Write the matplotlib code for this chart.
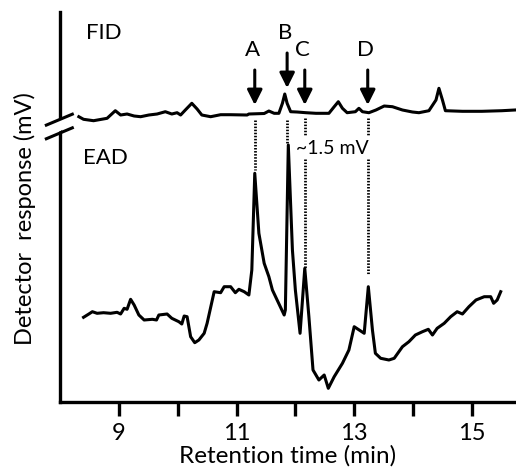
import numpy as np
import matplotlib.pyplot as plt

plt.rcParams['font.family'] = ['Lato', 'DejaVu Sans']

# FID trace (retention time in min, response in arbitrary units)
fid_t = [8.32, 8.40, 8.57, 8.80, 8.94, 9.03, 9.14, 9.26, 9.37, 9.51, 9.65, 9.79,
         9.90, 9.99, 10.05, 10.13, 10.24, 10.33, 10.41, 10.56, 10.73, 10.90, 11.18,
         11.21, 11.47, 11.55, 11.64, 11.72, 11.78, 11.82, 11.86, 11.92, 12.03, 12.18,
         12.35, 12.57, 12.66, 12.73, 12.80, 12.88, 13.02, 13.08, 13.14, 13.25, 13.37,
         13.51, 13.65, 13.82, 13.99, 14.10, 14.27, 14.39, 14.44, 14.50, 14.55, 14.84,
         15.17, 15.51, 15.73]
fid_y = [285.3, 282.7, 281.3, 283.7, 291.3, 287, 288, 286, 285.3, 287, 288, 290.3,
         288, 289.3, 287, 292, 298.7, 293, 287, 285.3, 287.3, 287.3, 287,
         288, 288.5, 291, 288.7, 288.7, 298.7, 308, 298.7, 290.3, 290, 289.3,
         288.7, 288.7, 295.3, 300.3, 293.7, 289.3, 290.3, 293.7, 290.3, 289.3, 292,
         296, 295.3, 292, 290, 289.3, 291.3, 302, 313.7, 302, 291.3, 290.7,
         290.7, 291.3, 292]

# EAD trace
ead_t = [8.40, 8.49, 8.55, 8.63, 8.74, 8.86, 8.97, 9.03, 9.09, 9.14, 9.20, 9.26,
         9.34, 9.43, 9.57, 9.64, 9.68, 9.82, 9.90, 10.02, 10.07, 10.11, 10.16, 10.22,
         10.29, 10.36, 10.45, 10.50, 10.62, 10.73, 10.79, 10.90, 10.98, 11.04, 11.13,
         11.21, 11.26, 11.31, 11.38, 11.47, 11.55, 11.61, 11.69, 11.81, 11.83, 11.88,
         11.95, 12.00, 12.08, 12.16, 12.23, 12.30, 12.40, 12.49, 12.56, 12.66, 12.80,
         12.91, 13.00, 13.17, 13.24, 13.31, 13.36, 13.45, 13.59, 13.68, 13.82, 13.93,
         14.04, 14.16, 14.26, 14.33, 14.41, 14.53, 14.64, 14.75, 14.84, 14.95, 15.07,
         15.21, 15.32, 15.37, 15.43, 15.49]
ead_y = [84.7, 88, 90.3, 88.7, 89.3, 88.7, 89.7, 88, 93.7, 92.7, 102.7, 97,
         87, 82, 82.7, 82, 87, 88, 83.7, 80.3, 78, 86, 85.3, 65.3,
         59.3, 62, 68.7, 78.7, 110.3, 109.3, 115.3, 115.3, 109.3, 112.7, 110.3,
         107, 132, 228.7, 168.7, 138.7, 125.3, 112, 102, 87, 92, 257,
         152, 112, 68.7, 133.7, 85.3, 32, 22, 27, 13.7, 25.3, 38.7,
         52, 75.3, 68.7, 115.3, 72, 48.7, 43.7, 42, 43.7, 55.3, 60.3,
         67, 70.3, 72.7, 67, 73.7, 78.7, 85.3, 90.3, 88, 95.3, 102,
         105.3, 105.3, 98.7, 102, 110.3]

# marked compounds
peak_names = ['A', 'B', 'C', 'D']
peak_t = [11.31, 11.86, 12.16, 13.23]
ead_top = [232, 259, 134, 128]

fig = plt.figure(figsize=(5.16, 4.71), dpi=100)
ax = fig.add_axes([0.1163, 0.1465, 0.8837, 0.828])
lw = 2.2
ax.plot(fid_t, fid_y, color='black', lw=lw, solid_joinstyle='round')
ax.plot(ead_t, ead_y, color='black', lw=lw, solid_joinstyle='round')

# dotted connectors and arrows
dots = dict(color='black', lw=2.0, ls=(0, (0.55, 0.55)))
for name, t, top in zip(peak_names, peak_t, ead_top):
    if name in ('C', 'D'):
        ax.plot([t, t], [284, 266], **dots)
        ax.plot([t, t], [243, top], **dots)
    else:
        ax.plot([t, t], [282, top], **dots)
    if name == 'B':
        y0, y1, ly = 349, 314, 369
    else:
        y0, y1, ly = 332, 297, 352
    ax.annotate('', xy=(t, y1), xytext=(t, y0),
                arrowprops=dict(arrowstyle='-|>,head_length=0.9,head_width=0.45',
                                color='black', lw=2.2, shrinkA=0, shrinkB=0))
    ax.text(t - 0.04, ly, name, ha='center', va='center', fontsize=16)

ax.text(12.63, 254, '~1.5 mV', ha='center', va='center', fontsize=14)
ax.text(8.75, 369, 'FID', ha='center', va='center', fontsize=16)
ax.text(8.78, 244, 'EAD', ha='center', va='center', fontsize=16)

ax.set_xlim(8, 15.75)
ax.set_ylim(0, 390)
ax.set_xticks(np.arange(9, 16))
ax.set_xticklabels(['9', '', '11', '', '13', '', '15'], fontsize=17)
ax.set_yticks([])
ax.tick_params(axis='x', direction='out', length=10, width=2.4, pad=5)
for s in ['top', 'right']:
    ax.spines[s].set_visible(False)
ax.spines['left'].set_linewidth(2.4)
ax.spines['bottom'].set_linewidth(2.4)
ax.set_xlabel('Retention time (min)', fontsize=17.5, labelpad=1)
ax.set_ylabel('Detector  response (mV)', fontsize=17)
ax.yaxis.set_label_coords(-0.052, 0.47)

# axis break on the y axis
kw = dict(transform=ax.transAxes, clip_on=False, color='black', lw=2.2)
bx = np.array([-0.03, 0.027])
ax.fill([-0.03, 0.027, 0.027, -0.03], [0.703, 0.738, 0.713, 0.678],
        transform=ax.transAxes, clip_on=False, color='white', zorder=3)
ax.plot(bx, [0.710, 0.738], zorder=4, **kw)
ax.plot(bx, [0.675, 0.703], zorder=4, **kw)

fig.savefig('out.png', dpi=100)
